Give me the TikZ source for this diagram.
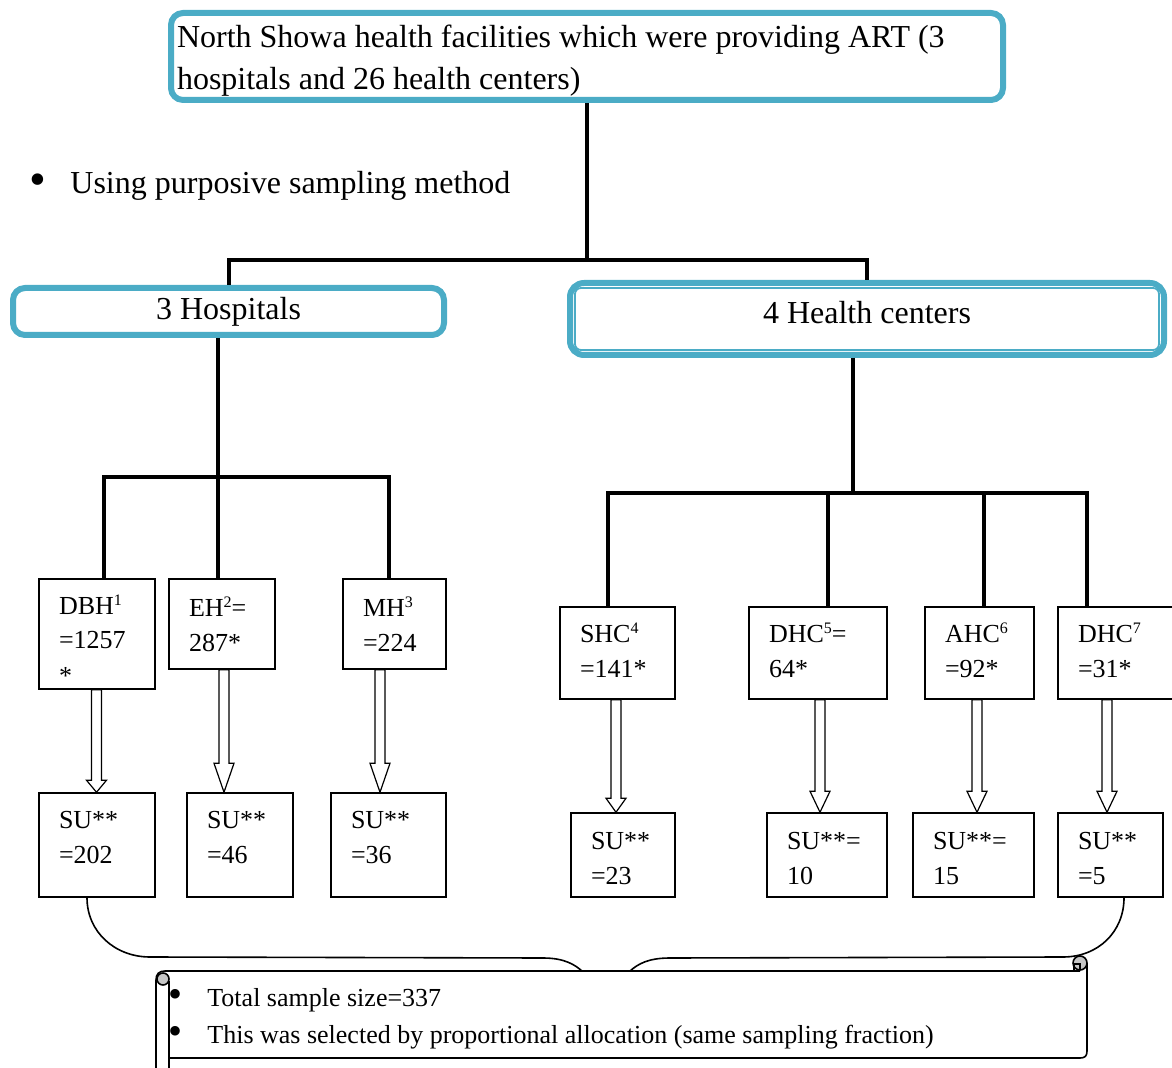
\documentclass[tikz,border=0pt]{standalone}
\usepackage{fontspec}
\setmainfont{Liberation Serif}
\usetikzlibrary{calc}
\definecolor{hcblue}{RGB}{75,172,198}
\newcommand\hollowarrow[4]{%
  \draw[harrow] ($(#1.south -| #3)+(-5,0)$) -- ($(#2.north -| #3)+(-5,-#4)$) -- ++(-5,0)
    -- (#2.north -| #3) -- ++(10,-#4) -- ++(-5,0) -- ($(#1.south -| #3)+(5,0)$) -- cycle;}
\newcommand\supn[1]{\raisebox{0.75ex}{\fontsize{8}{8}\selectfont #1}}
\newcommand\bigbullet{\raisebox{-0.1ex}{\fontsize{24}{24}\selectfont\textbullet}}
\newcommand\smallbullet{\raisebox{-0.1ex}{\fontsize{20}{20}\selectfont\textbullet}}
\newcommand\shiftedlines[2]{\raisebox{#1}[\height][\depth]{\begin{tabular}[c]{@{}l@{}}#2\end{tabular}}}
\begin{document}
\begin{tikzpicture}[x=0.5pt,y=-0.5pt,
  bluebox/.style={draw=hcblue, line width=3pt, rounded corners=6pt, fill=white, inner sep=0pt},
  conn/.style={line width=2pt},
  smallbox/.style={draw, line width=0.75pt, fill=white, align=flush left, inner xsep=10pt, inner ysep=0pt,
     font=\fontsize{13}{17.5}\selectfont},
  harrow/.style={draw, line width=0.6pt, fill=white, line join=miter},
  brace/.style={line width=0.8pt},
  bigtext/.style={font=\fontsize{16}{21}\selectfont},
  notetext/.style={font=\fontsize{13}{18.5}\selectfont, inner sep=0pt}]
\useasboundingbox (0,0) rectangle (1172,1068);

% top box
\node[bluebox, bigtext, minimum width=416pt, minimum height=43.5pt,
      text width=410pt, align=flush left, inner xsep=3pt] (top) at (587,56.5)
  {\shiftedlines{-2pt}{North Showa health facilities which were providing ART (3\\hospitals and 26 health centers)}};

% bullet text
\node[bigtext, inner sep=0pt, anchor=base] (b0) at (38,194) {\bigbullet};
\node[bigtext, inner sep=0pt, anchor=base west] (purp) at (70,194) {Using purposive sampling method};

% level 2 boxes
\node[bluebox, bigtext, minimum width=215.5pt, minimum height=23.5pt] (hosp) at (228.5,311.5) {3 Hospitals};
\node[bluebox, bigtext, rounded corners=7pt, minimum width=297pt, minimum height=36pt, text depth=7pt] (hc) at (867,319) {4 Health centers};
\draw[hcblue, line width=0.9pt, rounded corners=3pt] ($(hc.north west)+(8,8)$) rectangle ($(hc.south east)+(-8,-8)$);

% junction coordinates
\coordinate (j1) at (587,260);
\coordinate (j2) at (218,477);
\coordinate (l1) at (104,0);
\coordinate (l3) at (389,0);
\coordinate (j3) at (853,493);
\coordinate (m1) at (608,0);
\coordinate (m2) at (828,0);
\coordinate (m3) at (984,0);
\coordinate (m4) at (1087,0);

% small boxes
\node[smallbox, text width=38pt, minimum height=55pt] (dbh) at (97,634) {\shiftedlines{-4pt}{DBH\supn{1}\\=1257\\{}*}};
\node[smallbox, text width=33pt, minimum height=45pt] (eh) at (222,624) {EH\supn{2}=\\287*};
\node[smallbox, text width=31.5pt, minimum height=45pt] (mh) at (394.5,624) {MH\supn{3}\\=224};
\node[smallbox, text width=38pt, minimum height=52pt] (su1) at (97,845) {\shiftedlines{3pt}{SU**\\=202}};
\node[smallbox, text width=33pt, minimum height=52pt] (su2) at (240,845) {\shiftedlines{3pt}{SU**\\=46}};
\node[smallbox, text width=37.5pt, minimum height=52pt] (su3) at (388.5,845) {\shiftedlines{3pt}{SU**\\=36}};

\node[smallbox, text width=37.5pt, minimum height=46pt] (shc) at (617.5,653) {\shiftedlines{0pt}{SHC\supn{4}\\=141*}};
\node[smallbox, text width=49pt, minimum height=46pt] (dhc5) at (818,653) {\shiftedlines{0pt}{DHC\supn{5}=\\64*}};
\node[smallbox, text width=34.5pt, minimum height=46pt] (ahc) at (979.5,653) {\shiftedlines{0pt}{AHC\supn{6}\\=92*}};
\node[smallbox, text width=40pt, minimum height=46pt] (dhc7) at (1118,653) {\shiftedlines{0pt}{DHC\supn{7}\\=31*}};
\node[smallbox, text width=32pt, minimum height=42pt] (su4) at (623,855) {\shiftedlines{-2.5pt}{SU**\\=23}};
\node[smallbox, text width=40pt, minimum height=42pt] (su5) at (827,855) {\shiftedlines{-2.5pt}{SU**=\\10}};
\node[smallbox, text width=40.5pt, minimum height=42pt] (su6) at (973.5,855) {\shiftedlines{-2.5pt}{SU**=\\15}};
\node[smallbox, text width=32.5pt, minimum height=42pt] (su7) at (1110.5,855) {\shiftedlines{-2.5pt}{SU**\\=5}};

% tree connectors
\draw[conn] (top.south) -- (j1);
\draw[conn] (hosp.north) |- (j1) -| (hc.north);
\draw[conn] (hosp.south -| j2) -- (j2);
\draw[conn] (dbh.north -| l1) |- (j2) -| (mh.north -| l3);
\draw[conn] (j2) -- (eh.north -| j2);
\draw[conn] (hc.south -| j3) -- (j3);
\draw[conn] (shc.north -| m1) |- (j3) -| (dhc7.north -| m4);
\draw[conn] (dhc5.north -| m2) -- (m2 |- j3);
\draw[conn] (ahc.north -| m3) -- (m3 |- j3);

% hollow arrows
\coordinate (a1) at (96.5,0);
\coordinate (a2) at (224,0);
\coordinate (a3) at (380,0);
\coordinate (a4) at (616,0);
\coordinate (a5) at (820,0);
\coordinate (a6) at (977,0);
\coordinate (a7) at (1107,0);
\hollowarrow{dbh}{su1}{a1}{12}
\hollowarrow{eh}{su2}{a2}{29}
\hollowarrow{mh}{su3}{a3}{29}
\hollowarrow{shc}{su4}{a4}{14}
\hollowarrow{dhc5}{su5}{a5}{21}
\hollowarrow{ahc}{su6}{a6}{21}
\hollowarrow{dhc7}{su7}{a7}{21}

% brace joining samples to the note
\coordinate (bl) at (87,0);
\coordinate (br) at (1124,0);
\coordinate (bm1) at (582,971);
\coordinate (bm2) at (630,971);
\draw[brace] (su1.south -| bl) .. controls (87,932) and (115,957) .. (150,957) -- (543,958)
   .. controls (565,958) and (575,965) .. (bm1);
\draw[brace] (su7.south -| br) .. controls (1124,932) and (1098,957) .. (1063,957) -- (670,958)
   .. controls (648,958) and (638,964) .. (bm2);

% scroll
\draw[brace] (156,1068) -- (156,980) .. controls (156,974) and (159,971) .. (165,971) -- (1080,971);
\draw[brace] (169,981) -- (169,1068);
\draw[brace] (169,1058) -- (1080,1058) .. controls (1085,1058) and (1087,1056) .. (1087,1051) -- (1087,963);
\filldraw[brace, fill=gray!45] (163,979) circle[radius=3pt];
\filldraw[brace, fill=gray!45] (1080,963) circle[radius=3.5pt];
\draw[line width=0.6pt] (1074,971) -- (1074,964) -- (1080,964) -- (1080,969);

% note text
\node[notetext, anchor=base] (nb1) at (176,1006) {\smallbullet};
\node[notetext, anchor=base west] (n1) at (207,1006) {Total sample size=337};
\node[notetext, anchor=base] (nb2) at (176,1043) {\smallbullet};
\node[notetext, anchor=base west] (n2) at (207,1043) {This was selected by proportional allocation (same sampling fraction)};
\end{tikzpicture}
\end{document}
